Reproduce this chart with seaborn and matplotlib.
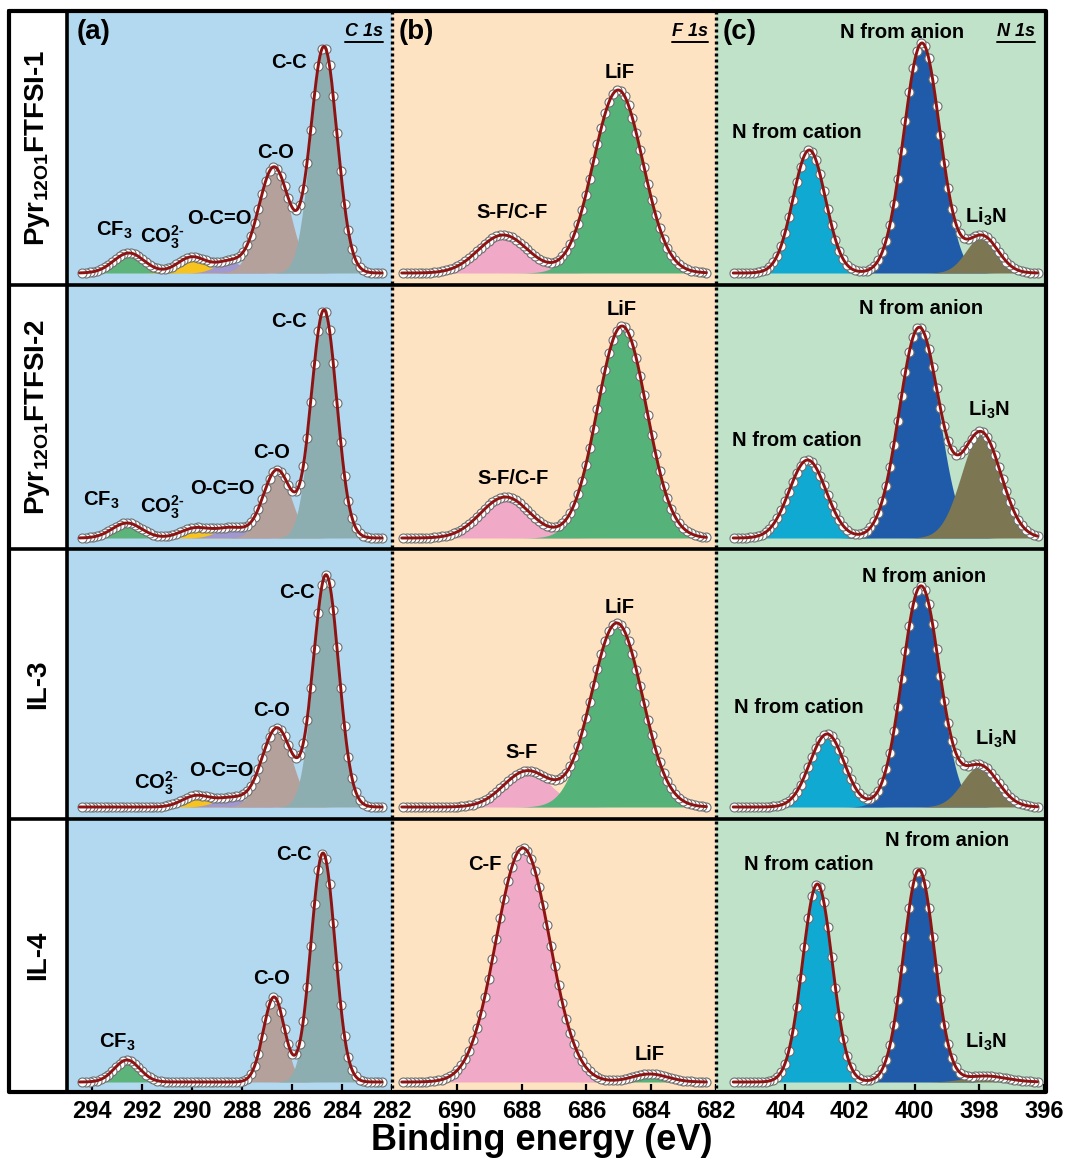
import numpy as np
import matplotlib
matplotlib.use("Agg")
import matplotlib.pyplot as plt
import seaborn as sns
from matplotlib import font_manager
from matplotlib.lines import Line2D

# ---------------------------------------------------------------- data
SAMPLES = [r"Pyr$_{\mathrm{12O1}}$FTFSI-1", r"Pyr$_{\mathrm{12O1}}$FTFSI-2", "IL-3", "IL-4"]
CORE_LEVELS = ["C 1s", "F 1s", "N 1s"]
PANEL_TAGS = ["(a)", "(b)", "(c)"]
X_TICKS = [[294, 292, 290, 288, 286, 284, 282],
           [690, 688, 686, 684, 682],
           [404, 402, 400, 398, 396]]
DATA_RANGES = [(294.5, 282.4), (691.7, 682.3), (405.6, 396.2)]
XLABEL = "Binding energy (eV)"

# C 1s fitted components: centre (eV), height (a.u.), FWHM (eV)
C1S_CENTER = [[292.52, 290.00, 288.50, 286.72, 284.72],
              [292.60, 289.85, 288.40, 286.60, 284.72],
              [289.85, 288.40, 286.60, 284.64],
              [292.60, 286.72, 284.76]]
C1S_HEIGHT = [[20, 16, 11, 106, 226],
              [15, 10, 10, 68, 228],
              [11, 9, 79, 232],
              [22, 85, 229]]
C1S_FWHM = [[1.45, 1.35, 1.30, 1.45, 1.25],
            [1.40, 1.40, 1.40, 1.30, 1.20],
            [1.30, 1.50, 1.40, 1.20],
            [1.20, 1.00, 1.13]]
C1S_SPECIES = [["CF3", "CO3", "OCO", "CO", "CC"],
               ["CF3", "CO3", "OCO", "CO", "CC"],
               ["CO3", "OCO", "CO", "CC"],
               ["CF3", "CO", "CC"]]
C1S_TEXT = [["CF$_3$", "CO$_3^{2\u2010}$", "O-C=O", "C-O", "C-C"],
            ["CF$_3$", "CO$_3^{2\u2010}$", "O-C=O", "C-O", "C-C"],
            ["CO$_3^{2\u2010}$", "O-C=O", "C-O", "C-C"],
            ["CF$_3$", "C-O", "C-C"]]
C1S_TEXT_X = [[293.12, 291.2, 288.92, 286.64, 286.12],
              [293.64, 291.2, 288.80, 286.80, 286.12],
              [291.44, 288.84, 286.80, 285.80],
              [293.00, 286.80, 285.92]]
C1S_TEXT_Y = [[43, 36, 55, 121, 211],
              [38, 31, 50, 85, 216],
              [24, 37, 97, 215],
              [40, 104, 227]]

# F 1s fitted components
F1S_CENTER = [[688.57, 685.02], [688.50, 684.90], [687.83, 685.06], [687.96, 684.04]]
F1S_HEIGHT = [[38, 183], [41, 212], [36, 184], [234, 8]]
F1S_FWHM = [[1.80, 1.80], [1.80, 1.80], [1.70, 1.85], [1.95, 1.30]]
F1S_SPECIES = [["SF", "LiF"], ["SF", "LiF"], ["SF", "LiF"], ["SF", "LiF"]]
F1S_TEXT = [["S-F/C-F", "LiF"], ["S-F/C-F", "LiF"], ["S-F", "LiF"], ["C-F", "LiF"]]
F1S_TEXT_X = [[688.30, 684.96], [688.27, 684.90], [688.00, 684.96], [689.13, 684.04]]
F1S_TEXT_Y = [[60, 201], [60, 228], [55, 200], [217, 27]]

# N 1s fitted components
N1S_CENTER = [[403.25, 399.77, 397.91], [403.30, 399.86, 397.94],
              [402.70, 399.80, 397.97], [403.00, 399.86, 397.80]]
N1S_HEIGHT = [[123, 230, 37], [78, 210, 105], [73, 221, 41], [198, 212, 6]]
N1S_FWHM = [[1.18, 1.32, 1.15], [1.34, 1.44, 1.44], [1.25, 1.35, 1.30], [1.08, 1.13, 1.50]]
N1S_SPECIES = [["cation", "anion", "Li3N"]] * 4
N1S_TEXT = [["N from cation", "N from anion", "Li$_3$N"]] * 4
N1S_TEXT_X = [[403.62, 400.38, 397.79], [403.62, 399.80, 397.70],
              [403.56, 399.70, 397.50], [403.25, 399.00, 397.79]]
N1S_TEXT_Y = [[140, 240, 56], [98, 229, 128], [100, 231, 68], [217, 242, 40]]

# ---------------------------------------------------------------- styles
SPECIES_COLORS = {"CF3": "#5db47a", "CO3": "#f7c31e", "OCO": "#a098cf",
                  "CO": "#b5a19b", "CC": "#8daeb1",
                  "SF": "#f0a9c6", "LiF": "#55b379",
                  "cation": "#10a9d2", "anion": "#205ba9", "Li3N": "#7c7752"}
BG_COLORS = ["#b3d9f1", "#fee3c3", "#bfe2c8"]
ENV_COLOR = "#8e1414"
W, H = 1069, 1161
COL_EDGES = [(67, 392), (392, 716), (716, 1046)]
ROW_EDGES = [(11, 285), (285, 549), (549, 819), (819, 1092)]
Y_LIMS = [(-12, 262), (-11, 253), (-12, 258), (-10, 263)]
X_LIMS = [(295.0, 282.0), (692.0, 682.0), (406.13, 395.94)]
DATA_STEP = [0.15, 0.12, 0.12]

sns.set_theme(style="white")
names = {f.name for f in font_manager.fontManager.ttflist}
FONT = "Liberation Sans" if "Liberation Sans" in names else "DejaVu Sans"
plt.rcParams["font.family"] = [FONT, "DejaVu Sans"]
plt.rcParams["font.weight"] = "bold"
plt.rcParams["text.color"] = "black"
plt.rcParams["xtick.color"] = "black"
plt.rcParams["xtick.labelcolor"] = "black"
plt.rcParams["axes.labelcolor"] = "black"
plt.rcParams["mathtext.fontset"] = "custom"
plt.rcParams["mathtext.rm"] = f"{FONT}:bold"
plt.rcParams["mathtext.it"] = f"{FONT}:italic:bold"
plt.rcParams["mathtext.bf"] = f"{FONT}:bold"
plt.rcParams["mathtext.default"] = "rm"


def gauss(x, c, h, w):
    return h * np.exp(-4.0 * np.log(2.0) * (x - c) ** 2 / w ** 2)


def rect(x0, y0, x1, y1):
    return [x0 / W, 1 - y1 / H, (x1 - x0) / W, (y1 - y0) / H]


fig = plt.figure(figsize=(W / 100, H / 100), dpi=100)
fig.patch.set_facecolor("white")

level_data = [
    (C1S_CENTER, C1S_HEIGHT, C1S_FWHM, C1S_SPECIES, C1S_TEXT, C1S_TEXT_X, C1S_TEXT_Y),
    (F1S_CENTER, F1S_HEIGHT, F1S_FWHM, F1S_SPECIES, F1S_TEXT, F1S_TEXT_X, F1S_TEXT_Y),
    (N1S_CENTER, N1S_HEIGHT, N1S_FWHM, N1S_SPECIES, N1S_TEXT, N1S_TEXT_X, N1S_TEXT_Y),
]

top_axes = []
for r in range(4):
    for c in range(3):
        x0, x1 = COL_EDGES[c]
        y0, y1 = ROW_EDGES[r]
        ax = fig.add_axes(rect(x0, y0, x1, y1))
        ax.set_facecolor(BG_COLORS[c])
        for s in ax.spines.values():
            s.set_visible(False)
        cen, hei, fwhm, spec, txt, tx, ty = (d[r] for d in level_data[c])
        hi, lo = DATA_RANGES[c]
        xf = np.linspace(lo, hi, 1200)
        comps = [gauss(xf, cc, hh, ww) for cc, hh, ww in zip(cen, hei, fwhm)]
        for comp, sp in zip(comps, spec):
            ax.fill_between(xf, 0, comp, color=SPECIES_COLORS[sp], lw=0, zorder=1)
        env = np.sum(comps, axis=0)
        xs = np.arange(lo, hi, DATA_STEP[c])
        ys = np.sum([gauss(xs, cc, hh, ww) for cc, hh, ww in zip(cen, hei, fwhm)], axis=0)
        sns.scatterplot(x=xs, y=ys, ax=ax, s=42, color="white", edgecolor="#6e6e6e",
                        linewidth=0.8, zorder=2, legend=False)
        sns.lineplot(x=xf, y=env, ax=ax, color=ENV_COLOR, lw=2.1, zorder=3,
                     estimator=None, legend=False)
        for t, xx, yy in zip(txt, tx, ty):
            ax.text(xx, yy, t, ha="center", va="center", fontsize=14.5,
                    fontweight="bold", color="black", zorder=5)
        ax.set_xlim(*X_LIMS[c])
        ax.set_ylim(*Y_LIMS[r])
        ax.set_yticks([])
        ax.set_xlabel("")
        ax.set_ylabel("")
        if r == 3:
            ax.set_xticks(X_TICKS[c])
            ax.set_xticklabels([str(v) for v in X_TICKS[c]], fontsize=17,
                               fontweight="bold", color="black")
            ax.tick_params(axis="x", direction="in", length=6, width=1.6,
                           color="black", labelcolor="black", pad=6, bottom=True)
        else:
            ax.set_xticks([])
        if r == 0:
            top_axes.append(ax)

# panel tags and core-level titles
tag_x = [0.03, 0.019, 0.021]
title_x = [0.972, 0.975, 0.967]
title_texts = []
for c, ax in enumerate(top_axes):
    ax.text(tag_x[c], 0.922, PANEL_TAGS[c], transform=ax.transAxes, ha="left",
            va="center", fontsize=20, fontweight="bold", color="black", zorder=6)
    t = ax.text(title_x[c], 0.925, CORE_LEVELS[c], transform=ax.transAxes,
                ha="right", va="center", fontsize=13, fontweight="bold",
                style="italic", color="black", zorder=6)
    title_texts.append(t)

# row labels
for r, lab in enumerate(SAMPLES):
    y0, y1 = ROW_EDGES[r]
    fig.text(38 / W, 1 - (y0 + y1) / 2 / H, lab, rotation=90, ha="center",
             va="center", fontsize=20, fontweight="bold", color="black")

fig.text(542 / W, 1 - 1140 / H, XLABEL, ha="center", va="center",
         fontsize=26, fontweight="bold", color="black")

# frame lines
def fline(xs, ys, **kw):
    fig.add_artist(Line2D([x / W for x in xs], [1 - y / H for y in ys],
                          transform=fig.transFigure, color="black", **kw))

for y in (285, 549, 819):
    fline([9, 1046], [y, y], lw=2.6)
fline([67, 67], [11, 1092], lw=2.6)
for x in (392, 716):
    fline([x, x], [11, 1092], lw=2.4, linestyle=(0, (0.9, 0.9)))
fline([9, 1046, 1046, 9, 9], [11, 11, 1092, 1092, 11], lw=3)

# underline core-level titles
fig.canvas.draw()
renderer = fig.canvas.get_renderer()
for t in title_texts:
    bb = t.get_window_extent(renderer)
    yy = bb.y0 - 1.5
    fig.add_artist(Line2D([bb.x0 / W, bb.x1 / W], [yy / H, yy / H],
                          transform=fig.transFigure, color="black", lw=1.4))

fig.savefig("out.png", dpi=100, facecolor="white")
